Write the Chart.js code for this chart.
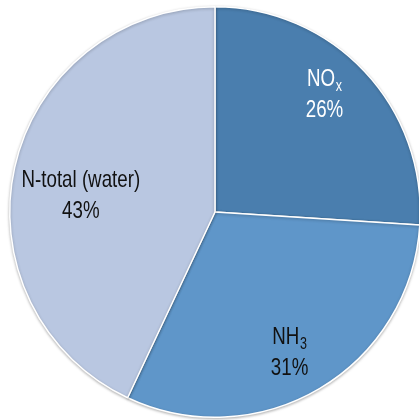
<!DOCTYPE html>
<html>
<head>
<meta charset="utf-8">
<script src="https://cdn.jsdelivr.net/npm/chart.js@4.4.1/dist/chart.umd.min.js"></script>
<style>
  html, body { margin: 0; padding: 0; background: #fff; overflow: hidden; }
  #wrap { width: 419px; height: 420px; overflow: hidden; position: relative; }
  canvas { position: absolute; left: 0; top: 0; }
</style>
</head>
<body>
<div id="wrap"><canvas id="pie" width="430" height="420"></canvas></div>
<script>
// data
const labels = ['NOx', 'NH3', 'N-total (water)'];
const values = [26, 31, 43];
const colors = ['#4a7eae', '#5f96c9', '#b9c7e1'];

// label text: main part, subscript, colour
const labelMain = ['NO', 'NH', 'N-total (water)'];
const labelSub = ['x', '3', ''];
const labelColor = ['#ffffff', '#111111', '#111111'];
// where inside each slice: fraction along the arc, fraction of radius
const labelAnchor = [[0.454, 0.79], [0.52, 0.765], [0.47, 0.66]];

const FONT = "'Liberation Sans', Arial, sans-serif";
const SQUEEZE = 0.78; // condensed look

const shadowPlugin = {
  id: 'shadow',
  beforeDatasetsDraw(chart) {
    const ctx = chart.ctx;
    ctx.save();
    ctx.shadowColor = 'rgba(0,0,0,0.28)';
    ctx.shadowBlur = 3;
    ctx.shadowOffsetX = 0;
    ctx.shadowOffsetY = 1;
  },
  afterDatasetsDraw(chart) {
    chart.ctx.restore();
  }
};

function condensedText(ctx, parts, cx, baseline) {
  // parts: [[text, font, dy]]
  let widths = parts.map(p => { ctx.font = p[1]; return ctx.measureText(p[0]).width; });
  const total = widths.reduce((a, b) => a + b, 0) + (parts.length - 1) * 1;
  ctx.save();
  ctx.translate(cx, baseline);
  ctx.scale(SQUEEZE, 1);
  let x = -total / 2;
  parts.forEach((p, k) => {
    ctx.font = p[1];
    ctx.fillText(p[0], x, p[2]);
    x += widths[k] + 1;
  });
  ctx.restore();
}

const labelPlugin = {
  id: 'sliceLabels',
  afterDraw(chart) {
    const ctx = chart.ctx;
    const meta = chart.getDatasetMeta(0);
    const total = values.reduce((a, b) => a + b, 0);
    const big = '24px ' + FONT;
    const small = '16px ' + FONT;
    meta.data.forEach((arc, i) => {
      const p = arc.getProps(['x', 'y', 'startAngle', 'endAngle', 'outerRadius'], true);
      const ang = p.startAngle + (p.endAngle - p.startAngle) * labelAnchor[i][0];
      const r = p.outerRadius * labelAnchor[i][1];
      const cx = p.x + Math.cos(ang) * r;
      const cy = p.y + Math.sin(ang) * r;

      ctx.save();
      ctx.fillStyle = labelColor[i];
      ctx.textBaseline = 'alphabetic';
      ctx.textAlign = 'left';
      const line1 = cy - 6;
      const parts = [[labelMain[i], big, 0]];
      if (labelSub[i]) parts.push([labelSub[i], small, 5]);
      condensedText(ctx, parts, cx, line1);
      const pct = Math.round(values[i] / total * 100) + '%';
      condensedText(ctx, [[pct, big, 0]], cx, line1 + 31);
      ctx.restore();
    });
  }
};

new Chart(document.getElementById('pie'), {
  type: 'pie',
  data: {
    labels: labels,
    datasets: [{
      data: values,
      backgroundColor: colors,
      borderColor: '#ffffff',
      borderWidth: 1.5
    }]
  },
  options: {
    responsive: false,
    animation: false,
    devicePixelRatio: 1,
    layout: { padding: { top: 6, bottom: 2, left: 0, right: 0 } },
    plugins: {
      legend: { display: false },
      tooltip: { enabled: false }
    }
  },
  plugins: [shadowPlugin, labelPlugin]
});
</script>
</body>
</html>
